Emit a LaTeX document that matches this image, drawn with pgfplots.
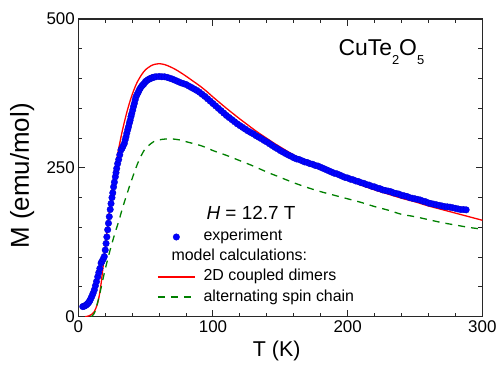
\documentclass[border=0pt]{standalone}
\usepackage{pgfplots}
\pgfplotsset{compat=1.18}
\usepackage{fontspec}
\setmainfont{Liberation Sans}
\definecolor{mygreen}{RGB}{0,128,0}
\definecolor{axgray}{RGB}{40,40,40}
\begin{document}
\begin{tikzpicture}[x=1bp,y=1bp]
\path[use as bounding box] (0,0) rectangle (501,367);
\begin{axis}[
  at={(78.3bp,50.3bp)}, anchor=south west,
  scale only axis, width=404bp, height=297.7bp,
  xmin=0, xmax=300, ymin=0, ymax=500,
  xtick={0,100,200,300}, ytick={0,250,500},
  minor x tick num=4, minor y tick num=4,
  tick align=inside, major tick length=6.5bp, minor tick length=4bp,
  axis line style={line width=1.3bp, axgray},
  every tick/.style={axgray, line width=1bp},
  /pgf/number format/assume math mode=true,
  tick label style={font=\fontsize{17}{17}\selectfont},
  xlabel={T (K)}, ylabel={M (emu/mol)},
  xlabel style={at={(axis description cs:0.491,-0.115)}, anchor=center, font=\fontsize{21.5}{21.5}\selectfont},
  ylabel style={at={(axis description cs:-0.139,0.473)}, anchor=center, font=\fontsize{26}{26}\selectfont},
  legend cell align=left,
  legend image code/.code={\draw[mark repeat=2,mark phase=2,#1] plot coordinates {(0bp,0bp) (18.5bp,0bp) (37bp,0bp)};},
  legend style={draw=none, fill=none, inner sep=0pt, at={(axis description cs:0.1948,0.302)}, anchor=north west,
    font=\fontsize{16}{16}\selectfont, row sep=0pt,
    nodes={inner ysep=2bp, inner xsep=8bp, text height=12bp, text depth=4bp}},
]
\addplot[only marks, mark=*, mark size=3.3bp, mark options={fill=blue, draw=blue!80!black, line width=0.3bp}] coordinates {
(3.3,17) (4.2,17.5) (5.0,18.5) (5.8,19.5) (6.5,21) (7.2,22.5) (7.9,24.5) (8.6,27) (9.4,31) (10.2,35) (11.0,39.5) (11.9,45) (12.7,52) (13.5,59) (14.4,67) (15.2,74) (16.0,81) (16.9,90) (17.6,93) (18.5,97) (19.3,101) (20.0,112) (20.6,123) (21.2,134) (21.8,146) (22.4,157) (23.0,168) (23.7,180) (24.3,190) (25.0,200) (25.6,208) (26.2,218) (26.8,226) (27.5,235) (28.0,242) (28.5,249) (29.2,257) (30.0,264) (30.8,272) (31.7,280) (32.5,283) (33.3,287) (34.2,291) (34.8,297) (35.4,302) (36.0,308) (36.7,314) (37.3,319) (37.9,325) (38.5,330) (39.1,336) (39.7,341) (40.4,347) (41.0,353) (41.6,358) (42.2,364) (42.8,369) (43.6,373) (44.5,377) (45.3,381) (46.1,384) (47.0,387) (47.8,389) (48.7,391) (49.6,394) (50.5,396) (51.5,397.5) (52.5,399) (53.5,400) (54.5,401) (55.5,402) (56.5,402.5) (57.7,403)
(60,403.5) (62,403) (64,403) (66,402) (68,400.5) (70,399) (72,397) (74,395) (76,393) (78,391.5) (80,390) (82,387.5) (84,385) (86,382.5) (88,380) (90,377) (92,373.5) (94,370) (96,366) (98,362) (100,358) (102,354) (104,350) (106,346) (108,342) (110,338) (112,334.5) (114,331) (116,327.5) (118,324) (120,321) (122,318) (124,315) (126,312) (128,309.5) (130,307) (132,304) (134,301.5) (136,299) (138,296) (140,293.5) (142,290.5) (144,287.5) (146,284.5) (148,282) (150,279) (152,276.5) (154,274) (156,271.5) (158,269.5) (160,267) (162,265) (164,264) (166,262) (168,260) (170,259) (172,257) (174,256) (176,254) (178,253) (180,251) (182,249) (184,247) (186,245) (188,243) (190,241) (192,240) (194,238) (196,236) (198,234) (200,233) (202,231) (204,230) (206,228) (208,227) (210,225) (212,224) (214,222) (216,221) (218,219) (220,218) (222,216) (224,215) (226,213) (228,212) (230,211) (232,210) (234,208) (236,207) (238,206) (240,204) (242,203) (244,202) (246,200) (248,199) (250,198) (252,197) (254,196) (256,194) (258,193) (260,191) (262,190) (264,189) (266,188) (268,187) (270,186) (272,185) (274,184.5) (276,184) (278,183) (280,182) (282,181) (284,180) (286,180) (288,179.5)
};
\addlegendentry{experiment}
\addlegendimage{empty legend}
\addlegendentry{\hspace{-32bp}model calculations:}
\addplot[red, line width=1.3bp, no marks, smooth] coordinates {
(5,0) (6,0.3) (8,1.5) (10,4) (12,9) (13,14) (14,20) (15,29) (16,41) (17,57) (18,76) (19,96) (20,117) (21,138) (22,158) (23,177) (24,195) (25,212) (26,228) (27,243) (28,257) (29,270) (30,282.5) (32,305) (34,325) (36,343) (38,359) (40,373) (42,385) (44,395) (47,406.5) (50,415) (54,421.5) (57,424) (60,425) (64,423.5) (68,420) (72,415.5) (76,410) (80,404) (85,396) (90,388) (95,379) (100,369) (105,359.5) (110,350) (115,341) (120,332) (125,323.5) (130,315) (135,307) (140,299.5) (145,292) (150,285) (160,271.5) (170,259.5) (180,249) (190,239) (200,230) (210,221) (220,213) (230,206) (240,199) (250,193) (260,186) (270,180) (280,174) (290,168) (300,162)
};
\addlegendentry{2D coupled dimers}
\addplot[mygreen, line width=1.3bp, no marks, dash pattern=on 7bp off 6bp, smooth] coordinates {
(9.5,0) (11,3) (12.5,9) (14,21) (16,39) (18,60) (20,80) (22,98) (24,115) (26,131) (28,146) (30,160) (32,176) (34,191) (36,205) (38,219) (40,232) (42,245) (44,257) (46,267) (48,276) (50,283) (53,289) (56,294) (60,297) (65,298.5) (70,298.5) (75,297) (80,294) (85,291) (90,288) (95,284) (100,279) (110,271) (120,262) (130,253) (140,243) (150,234) (160,225) (170,217) (180,210) (190,204) (200,198) (210,192) (220,185) (230,179) (240,172) (250,168) (260,163) (270,158) (280,154) (290,150) (300,147)
};
\addlegendentry{alternating spin chain}
\node[anchor=base west, font=\fontsize{19}{19}\selectfont] at (axis description cs:0.3087,0.325) {\textit{H} = 12.7 T};
\node[anchor=base west, font=\fontsize{23}{23}\selectfont] at (axis description cs:0.6354,0.879) {CuTe\raisebox{-9bp}{\fontsize{13}{13}\selectfont 2}O\raisebox{-9bp}{\fontsize{13}{13}\selectfont 5}};
\end{axis}
\end{tikzpicture}
\end{document}
